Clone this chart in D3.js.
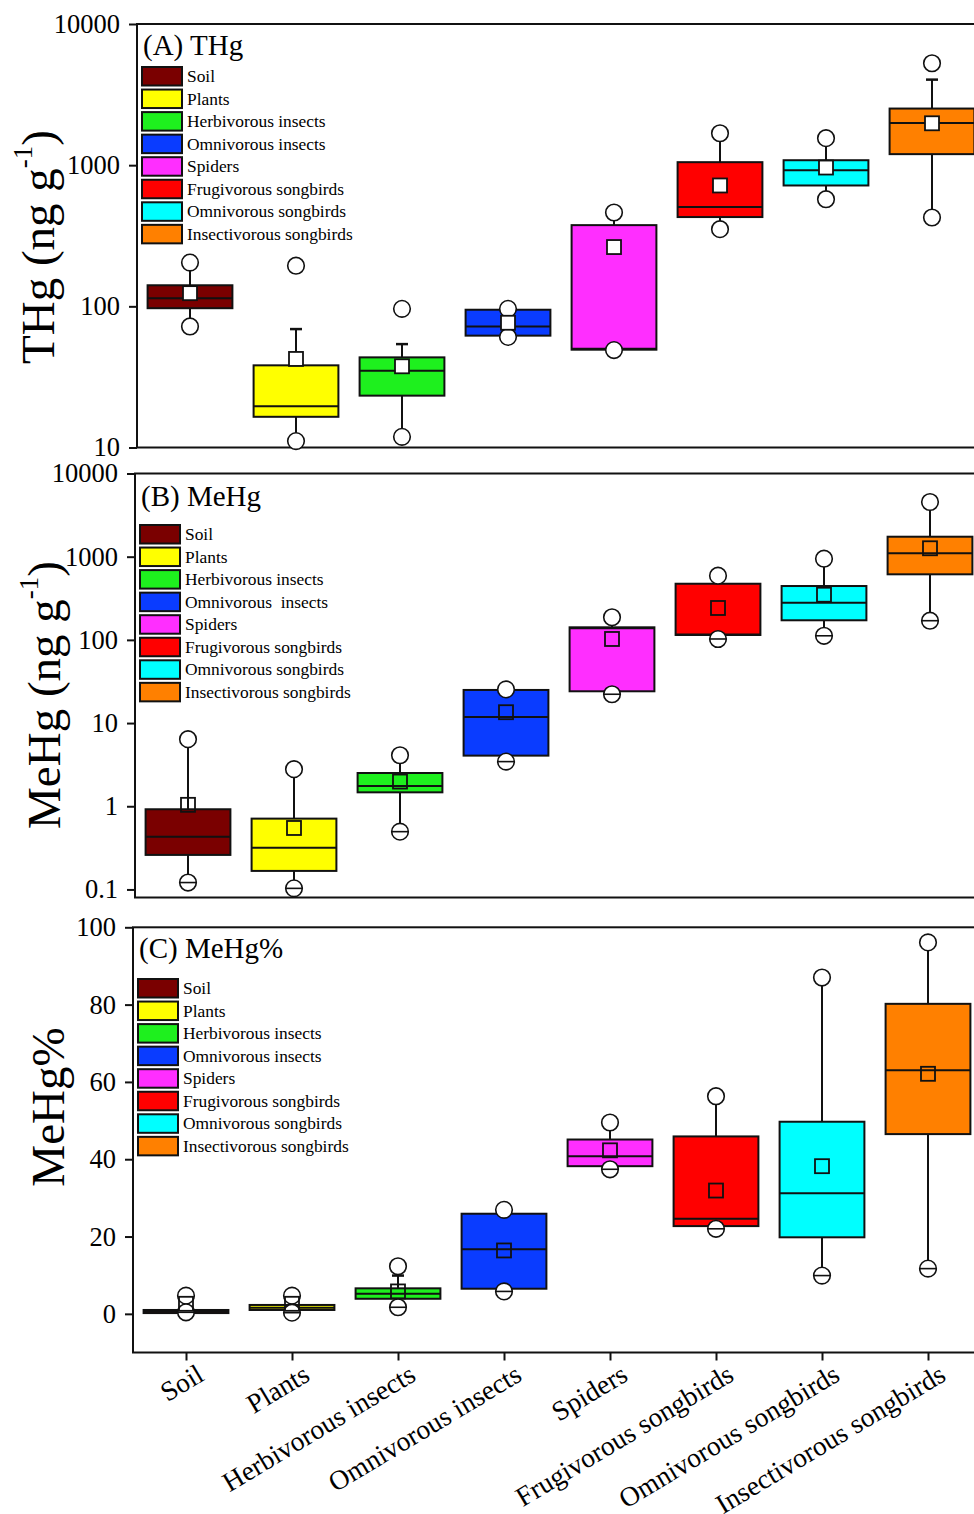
<!DOCTYPE html>
<html><head><meta charset="utf-8">
<script src="https://cdn.jsdelivr.net/npm/d3@7"></script>
<style>
body{margin:0;background:#fff}
svg{display:block}
text{font-family:"Liberation Serif","Times New Roman",serif;fill:#000}
</style>
</head><body><svg id="c" width="974" height="1514"></svg>
<script>
const categories = ["Soil","Plants","Herbivorous insects","Omnivorous insects","Spiders","Frugivorous songbirds","Omnivorous songbirds","Insectivorous songbirds"];
const legendLabelsAC = ["Soil","Plants","Herbivorous insects","Omnivorous insects","Spiders","Frugivorous songbirds","Omnivorous songbirds","Insectivorous songbirds"];
const legendLabelsB = ["Soil","Plants","Herbivorous insects","Omnivorous  insects","Spiders","Frugivorous songbirds","Omnivorous songbirds","Insectivorous songbirds"];
const colors = ["#7a0000","#ffff00","#1ef01e","#0a3cff","#ff2eff","#ff0000","#00ffff","#ff8000"];

// (A) THg, ng/g
const thgQ1 = [97, 16.5, 23.3, 62, 49.3, 429, 718, 1197];
const thgMedian = [114, 19.6, 35, 72, 50, 505, 922, 1992];
const thgQ3 = [141, 38.2, 43.5, 94.6, 376, 1050, 1084, 2518];
const thgMean = [124, 42.4, 37.6, 76.5, 263, 718, 962, 1980];
const thgWhiskerLow = [72, 11.1, 11.9, 60.7, 49, 352, 574, 426];
const thgWhiskerHigh = [204, 69, 54, 96, 462, 1683, 1553, 4036];
const thgMin = [72, 11.1, 11.9, 60.7, 49, 352, 574, 426];
const thgMax = [204, 194, 96, 96, 462, 1683, 1553, 5272];
const thgTicks = [10, 100, 1000, 10000];

// (B) MeHg, ng/g
const mehgQ1 = [0.26, 0.167, 1.47, 4.06, 24.1, 114.5, 172, 614];
const mehgMedian = [0.43, 0.318, 1.75, 11.8, 138, 116, 280, 1099];
const mehgQ3 = [0.92, 0.71, 2.51, 25, 141.6, 473, 444, 1738];
const mehgMean = [1.04, 0.548, 1.98, 13.5, 102.5, 241.7, 349, 1262];
const mehgWhiskerLow = [0.121, 0.103, 0.495, 3.44, 22.2, 102.5, 112, 170];
const mehgWhiskerHigh = [6.4, 2.79, 4.1, 25.4, 187, 591, 946, 4543];
const mehgMin = [0.121, 0.103, 0.495, 3.44, 22.2, 102.5, 112, 170];
const mehgMax = [6.4, 2.79, 4.1, 25.4, 187, 591, 946, 4543];
const mehgTicks = [0.1, 1, 10, 100, 1000, 10000];

// (C) MeHg %
const pctQ1 = [0.2, 1.0, 3.9, 6.5, 38.2, 22.7, 19.8, 46.5];
const pctMedian = [0.6, 1.6, 5.2, 16.7, 40.8, 24.6, 31.2, 63];
const pctQ3 = [1.0, 2.3, 6.6, 25.9, 45.1, 45.9, 49.7, 80.2];
const pctMean = [2.6, 2.6, 5.8, 16.4, 42.3, 31.9, 38.2, 62.1];
const pctWhiskerLow = [0.4, 0.3, 1.7, 5.8, 37.4, 22.0, 9.9, 11.7];
const pctWhiskerHigh = [4.7, 4.7, 9.9, 26.9, 49.5, 56.3, 87.0, 96.1];
const pctMin = [0.4, 0.3, 1.7, 5.8, 37.4, 22.0, 9.9, 11.7];
const pctMax = [4.7, 4.7, 12.3, 26.9, 49.5, 56.3, 87.0, 96.1];
const pctTicks = [0, 20, 40, 60, 80, 100];

const svg = d3.select("#c");
svg.append("rect").attr("width",974).attr("height",1514).attr("fill","#fff");

const panels = [
  {left:137, top:24, bottom:447.5, log:true, domain:[10,10000], ticks:thgTicks,
   q1:thgQ1, med:thgMedian, q3:thgQ3, mean:thgMean, wl:thgWhiskerLow, wh:thgWhiskerHigh, mn:thgMin, mx:thgMax,
   meanFill:"#fff", lowBar:false, title:"(A) THg", titleY:55, legendTop:67, legend:legendLabelsAC,
   ylab:["THg (ng g","-1",")"], ylabX:54, ylabY:247, xAxis:false},
  {left:135, top:473.5, bottom:897.5, log:true, domain:[0.08,10000], ticks:mehgTicks,
   q1:mehgQ1, med:mehgMedian, q3:mehgQ3, mean:mehgMean, wl:mehgWhiskerLow, wh:mehgWhiskerHigh, mn:mehgMin, mx:mehgMax,
   meanFill:"none", lowBar:true, title:"(B) MeHg", titleY:506, legendTop:525, legend:legendLabelsB,
   ylab:["MeHg (ng g","-1",")"], ylabX:60, ylabY:695, xAxis:false},
  {left:133, top:927.3, bottom:1352.5, log:false, domain:[-10,100], ticks:pctTicks,
   q1:pctQ1, med:pctMedian, q3:pctQ3, mean:pctMean, wl:pctWhiskerLow, wh:pctWhiskerHigh, mn:pctMin, mx:pctMax,
   meanFill:"none", lowBar:true, title:"(C) MeHg%", titleY:958, legendTop:979, legend:legendLabelsAC,
   ylab:["MeHg%"], ylabX:64, ylabY:1107, xAxis:true}
];

const plotW = 848;

panels.forEach(p => {
  const g = svg.append("g");
  const x = d3.scalePoint().domain(categories).range([p.left, p.left + plotW]).padding(0.5);
  const y = (p.log ? d3.scaleLog() : d3.scaleLinear()).domain(p.domain).range([p.bottom, p.top]);
  const bw = x.step() * 0.8;

  // frame
  g.append("rect").attr("x", p.left).attr("y", p.top).attr("width", plotW).attr("height", p.bottom - p.top)
    .attr("fill","none").attr("stroke","#111").attr("stroke-width",2);

  // y axis
  const ya = d3.axisLeft(y).tickValues(p.ticks).tickSize(8).tickPadding(9).tickFormat(d => String(d));
  const yg = g.append("g").attr("transform",`translate(${p.left},0)`).call(ya);
  yg.select(".domain").remove();
  yg.selectAll("line").attr("stroke","#111").attr("stroke-width",2);
  yg.selectAll("text").attr("font-size",26.5).attr("font-family","Liberation Serif").attr("fill","#000");

  // x axis
  if (p.xAxis) {
    const xa = d3.axisBottom(x).tickSize(8).tickPadding(6);
    const xg = g.append("g").attr("transform",`translate(0,${p.bottom})`).call(xa);
    xg.select(".domain").remove();
    xg.selectAll("line").attr("stroke","#111").attr("stroke-width",2);
    xg.selectAll("text").attr("font-size",27.5).attr("font-family","Liberation Serif").attr("fill","#000")
      .attr("text-anchor","end").attr("dy",null).attr("y",0)
      .attr("transform","translate(19,27) rotate(-31)");
  }

  // y label
  const yl = g.append("text").attr("transform",`translate(${p.ylabX},${p.ylabY}) rotate(-90)`)
    .attr("text-anchor","middle").attr("font-size",47);
  yl.append("tspan").text(p.ylab[0]);
  if (p.ylab.length > 1) {
    yl.append("tspan").attr("font-size",27).attr("dy",-22).text(p.ylab[1]);
    yl.append("tspan").attr("dy",22).text(p.ylab[2]);
  }

  // title
  g.append("text").attr("x", p.left + 6).attr("y", p.titleY).attr("font-size",29).text(p.title);

  // legend
  const lg = g.append("g");
  p.legend.forEach((lab, i) => {
    const yy = p.legendTop + i * 22.55;
    lg.append("rect").attr("x", p.left + 5).attr("y", yy).attr("width",40).attr("height",18.5)
      .attr("fill", colors[i]).attr("stroke","#111").attr("stroke-width",2);
    lg.append("text").attr("x", p.left + 50).attr("y", yy + 15).attr("font-size",17.4)
      .attr("xml:space","preserve").style("white-space","pre").text(lab);
  });

  // boxes
  categories.forEach((c, i) => {
    const cx = x(c);
    const bg = g.append("g");
    bg.append("line").attr("x1",cx).attr("x2",cx).attr("y1",y(p.q3[i])).attr("y2",y(p.wh[i]))
      .attr("stroke","#111").attr("stroke-width",2);
    bg.append("line").attr("x1",cx).attr("x2",cx).attr("y1",y(p.q1[i])).attr("y2",y(p.wl[i]))
      .attr("stroke","#111").attr("stroke-width",2);
    [p.wh[i], p.wl[i]].forEach(v => {
      bg.append("line").attr("x1",cx-6).attr("x2",cx+6).attr("y1",y(v)).attr("y2",y(v))
        .attr("stroke","#111").attr("stroke-width",2.5);
    });
    bg.append("rect").attr("x",cx-bw/2).attr("width",bw)
      .attr("y",y(p.q3[i])).attr("height",Math.max(1,y(p.q1[i])-y(p.q3[i])))
      .attr("fill",colors[i]).attr("stroke","#111").attr("stroke-width",2);
    bg.append("line").attr("x1",cx-bw/2).attr("x2",cx+bw/2).attr("y1",y(p.med[i])).attr("y2",y(p.med[i]))
      .attr("stroke","#111").attr("stroke-width",2);
    [p.mx[i], p.mn[i]].forEach(v => {
      bg.append("circle").attr("cx",cx).attr("cy",y(v)).attr("r",8.3)
        .attr("fill","#fff").attr("stroke","#111").attr("stroke-width",1.6);
    });
    if (p.lowBar) {
      bg.append("line").attr("x1",cx-8).attr("x2",cx+8).attr("y1",y(p.mn[i])).attr("y2",y(p.mn[i]))
        .attr("stroke","#111").attr("stroke-width",1.6);
    }
    bg.append("rect").attr("x",cx-7).attr("y",y(p.mean[i])-7).attr("width",14).attr("height",14)
      .attr("fill",p.meanFill).attr("stroke","#111").attr("stroke-width",1.8);
  });
});
</script>
</body></html>
